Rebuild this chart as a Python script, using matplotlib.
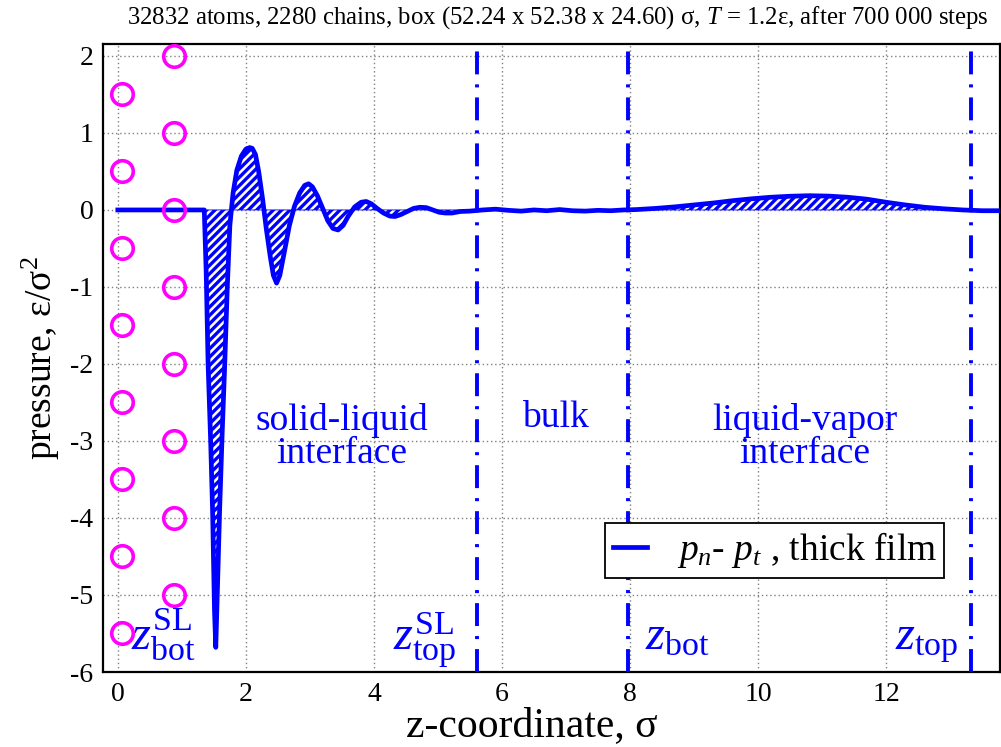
import matplotlib
matplotlib.use("Agg")
import matplotlib.pyplot as plt

plt.rcParams['font.family'] = ['Liberation Serif', 'DejaVu Serif']
plt.rcParams['mathtext.fontset'] = 'custom'
plt.rcParams['mathtext.rm'] = 'Liberation Serif'
plt.rcParams['mathtext.it'] = 'Liberation Serif:italic'
plt.rcParams['mathtext.bf'] = 'Liberation Serif:bold'
plt.rcParams['hatch.linewidth'] = 2.4
plt.rcParams['lines.scale_dashes'] = False

# p_n - p_t profile across the film
z = [0.00, 0.60, 1.35, 1.38, 1.41, 1.45, 1.48, 1.51, 1.53, 1.56, 1.59, 1.63,
     1.67, 1.71, 1.75, 1.80, 1.86, 1.93, 2.00, 2.06, 2.10, 2.15, 2.20, 2.26,
     2.32, 2.38, 2.43, 2.48, 2.53, 2.60, 2.68, 2.76, 2.84, 2.92, 2.98, 3.04,
     3.12, 3.20, 3.28, 3.36, 3.44, 3.52, 3.60, 3.70, 3.80, 3.88, 3.96, 4.05,
     4.15, 4.25, 4.33, 4.42, 4.52, 4.62, 4.72, 4.82, 4.92, 5.02, 5.12, 5.22,
     5.35, 5.50, 5.70, 5.90, 6.10, 6.30, 6.50, 6.70, 6.90, 7.10, 7.30, 7.50,
     7.70, 7.90, 8.10, 8.40, 8.70, 9.00, 9.30, 9.60, 9.90, 10.20, 10.50, 10.80,
     11.10, 11.40, 11.70, 12.00, 12.30, 12.60, 12.90, 13.20, 13.50, 13.80]
p = [0.00, 0.00, 0.00, -0.80, -2.00, -3.00, -3.90, -5.20, -5.68, -4.80, -3.90, -2.90,
     -2.00, -1.00, -0.20, 0.22, 0.52, 0.70, 0.79, 0.81, 0.80, 0.72, 0.50, 0.15,
     -0.25, -0.60, -0.85, -0.95, -0.85, -0.55, -0.20, 0.05, 0.22, 0.32, 0.34, 0.30,
     0.18, 0.02, -0.14, -0.24, -0.26, -0.20, -0.08, 0.04, 0.10, 0.11, 0.08, 0.02,
     -0.04, -0.08, -0.085, -0.06, -0.02, 0.02, 0.035, 0.03, 0.00, -0.03, -0.04, -0.04,
     -0.02, -0.015, 0.00, 0.01, -0.005, -0.015, 0.00, -0.01, 0.005, -0.01, -0.015, -0.005,
     -0.01, 0.00, 0.005, 0.02, 0.04, 0.065, 0.09, 0.12, 0.145, 0.165, 0.178, 0.185,
     0.18, 0.165, 0.14, 0.10, 0.065, 0.035, 0.015, 0.00, -0.01, -0.01]

# wall atoms (two layers)
wall_z1 = [0.06] * 8
wall_p1 = [1.5, 0.5, -0.5, -1.5, -2.5, -3.5, -4.5, -5.5]
wall_z2 = [0.87] * 8
wall_p2 = [2, 1, 0, -1, -2, -3, -4, -5]

# interface boundaries
boundaries = [5.61, 7.97, 13.33]

xticks = [0, 2, 4, 6, 8, 10, 12]
yticks = [-6, -5, -4, -3, -2, -1, 0, 1, 2]

blue = '#0000ff'
magenta = '#ff00ff'

fig = plt.figure(figsize=(10.01, 7.47), dpi=100)
ax = fig.add_axes([0.103, 0.1004, 0.896, 0.8407])

ax.set_xlim(-0.23, 13.78)
ax.set_ylim(-6, 2.155)
ax.set_xticks(xticks)
ax.set_yticks(yticks)
ax.set_xticklabels([str(t) for t in xticks])
ax.set_yticklabels([str(t) for t in yticks])
ax.tick_params(length=0, labelsize=20, pad=7)
ax.grid(True, color='#808080', linestyle=(0, (1, 2)), linewidth=1.0)
ax.set_axisbelow(True)
for s in ax.spines.values():
    s.set_linewidth(1.6)

ax.fill_between(z, p, 0, facecolor='white', edgecolor=blue, hatch='////',
                linewidth=0.6, zorder=2)
ax.plot(z, p, color=blue, linewidth=3.4, solid_joinstyle='round', zorder=3,
        label=r'$p_n$- $p_t$ , thick film')

for b in boundaries:
    ax.axvline(b, color=blue, linewidth=2.8, linestyle=(0, (16.5, 7.2, 2.2, 7.2)),
               zorder=3)

ax.plot(wall_z1, wall_p1, 'o', ms=15.5, mfc='none', mec=magenta, mew=2.6,
        clip_on=False, zorder=4)
ax.plot(wall_z2, wall_p2, 'o', ms=15.5, mfc='none', mec=magenta, mew=2.6,
        clip_on=False, zorder=4)

ax.text(3.5, -2.95, 'solid-liquid\ninterface', color=blue, fontsize=27,
        ha='center', va='center', linespacing=0.95)
ax.text(6.83, -2.7, 'bulk', color=blue, fontsize=27, ha='center', va='center')
ax.text(10.73, -2.95, 'liquid-vapor\ninterface', color=blue, fontsize=27,
        ha='center', va='center', linespacing=0.95)

zsize = 35
zbase = -5.71
ax.text(0.2, zbase, r'$z^{\rm SL}_{\rm bot}$', color=blue, fontsize=zsize,
        ha='left', va='baseline')
ax.text(4.3, zbase, r'$z^{\rm SL}_{\rm top}$', color=blue, fontsize=zsize,
        ha='left', va='baseline')
ax.text(8.23, zbase, r'$z_{\rm bot}$', color=blue, fontsize=zsize,
        ha='left', va='baseline')
ax.text(12.14, zbase, r'$z_{\rm top}$', color=blue, fontsize=zsize,
        ha='left', va='baseline')

leg = ax.legend(loc='lower left', bbox_to_anchor=(0.56, 0.15), fontsize=27,
                frameon=True, fancybox=False, handlelength=0.9,
                borderpad=0.2, handletextpad=0.8, borderaxespad=0)
leg.get_frame().set_edgecolor('black')
leg.get_frame().set_linewidth(1.3)
leg.get_frame().set_alpha(1)

ax.set_xlabel('z-coordinate, σ', fontsize=30)
ax.xaxis.set_label_coords(0.478, -0.086, transform=ax.transAxes)
ax.xaxis.label.set_va('center')
ax.set_ylabel(r'pressure, ε/σ$^2$', fontsize=27, labelpad=6)

fig.text(0.557, 0.976, r'32832 atoms, 2280 chains, box (52.24 x 52.38 x 24.60) σ, '
         r'$T$ = $1.2$ε, after 700 000 steps', fontsize=17.8,
         ha='center', va='center')

fig.savefig('out.png', dpi=100)
